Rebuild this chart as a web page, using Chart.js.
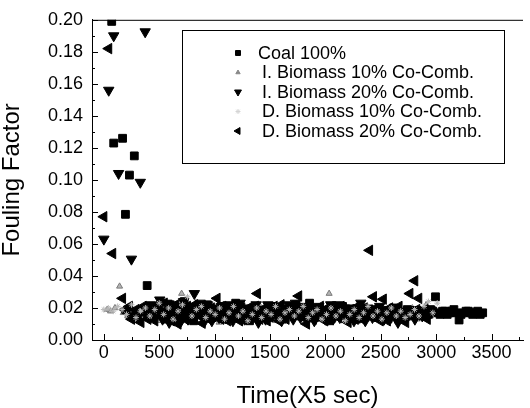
<!DOCTYPE html>
<html>
<head>
<meta charset="utf-8">
<script src="https://cdn.jsdelivr.net/npm/chart.js@4.4.1/dist/chart.umd.min.js"></script>
<style>
    body { margin: 0; background: #fff; }
    canvas { display: block; }
</style>
</head>
<body>
<canvas id="myChart" width="530" height="408"></canvas>
<script>
// Series as [time, fouling factor]
const coalPoints = [[71, 0.199], [89, 0.123], [169, 0.126], [195, 0.0785], [231, 0.103], [275, 0.115], [391, 0.034],
    [430, 0.018], [470, 0.021], [515, 0.016], [560, 0.013], [600, 0.022], [640, 0.019], [685, 0.015], [725, 0.024],
    [770, 0.017], [810, 0.012], [850, 0.020], [895, 0.016], [935, 0.022], [980, 0.014], [1020, 0.018], [1060, 0.021],
    [1105, 0.013], [1145, 0.017], [1190, 0.023], [1230, 0.015], [1270, 0.019], [1315, 0.012], [1355, 0.020], [1400, 0.016],
    [1440, 0.018], [1480, 0.014], [1525, 0.021], [1565, 0.017], [1610, 0.013], [1650, 0.019], [1690, 0.016], [1735, 0.022],
    [1775, 0.015], [1820, 0.018], [1857, 0.023], [1900, 0.014], [1945, 0.020], [1985, 0.017], [2030, 0.012], [2070, 0.019],
    [2110, 0.016], [2155, 0.021], [2195, 0.015], [2240, 0.018], [2280, 0.013], [2320, 0.020], [2365, 0.017], [2405, 0.015],
    [2450, 0.019], [2490, 0.014], [2530, 0.018], [2575, 0.016], [2615, 0.020], [2660, 0.013], [2700, 0.017], [2740, 0.019],
    [2785, 0.015], [2825, 0.018], [2850, 0.017], [2870, 0.016], [2890, 0.018], [2910, 0.017], [2930, 0.016], [2950, 0.019],
    [2970, 0.018], [2994, 0.027], [3015, 0.017], [3035, 0.016], [3058, 0.018], [3080, 0.018], [3100, 0.016], [3120, 0.017],
    [3140, 0.018], [3160, 0.019], [3180, 0.017], [3207, 0.0125], [3225, 0.016], [3250, 0.017], [3270, 0.018], [3290, 0.018],
    [3310, 0.017], [3330, 0.016], [3352, 0.017], [3375, 0.018], [3398, 0.016], [3420, 0.017]]

const iBio10Points = [[30, 0.019], [60, 0.018], [100, 0.020], [142, 0.0335], [175, 0.017], [215, 0.015], [255, 0.019],
    [300, 0.013], [340, 0.017], [380, 0.021], [425, 0.014], [465, 0.018], [510, 0.012], [550, 0.016], [590, 0.020],
    [635, 0.013], [675, 0.017], [702, 0.029], [745, 0.015], [785, 0.019], [830, 0.012], [870, 0.016], [915, 0.021],
    [955, 0.014], [1000, 0.018], [1040, 0.011], [1080, 0.016], [1125, 0.020], [1165, 0.013], [1210, 0.017], [1250, 0.015],
    [1290, 0.019], [1335, 0.012], [1375, 0.016], [1420, 0.020], [1460, 0.014], [1500, 0.018], [1545, 0.012], [1585, 0.016],
    [1630, 0.019], [1670, 0.013], [1710, 0.017], [1755, 0.015], [1795, 0.020], [1840, 0.012], [1880, 0.016], [1920, 0.019],
    [1965, 0.014], [2005, 0.017], [2034, 0.029], [2075, 0.013], [2115, 0.016], [2160, 0.020], [2200, 0.012], [2240, 0.017],
    [2285, 0.015], [2325, 0.019], [2370, 0.013], [2410, 0.016], [2450, 0.020], [2495, 0.014], [2535, 0.018], [2575, 0.012],
    [2620, 0.016], [2660, 0.019], [2700, 0.014], [2745, 0.017], [2785, 0.020], [2830, 0.013], [2870, 0.016], [2910, 0.022],
    [2950, 0.015], [2990, 0.019], [3030, 0.0155]]

const iBio20Points = [[0, 0.063], [44, 0.156], [89, 0.190], [133, 0.104], [249, 0.0505], [329, 0.0985], [373, 0.1925],
    [400, 0.017], [420, 0.022], [445, 0.019], [465, 0.014], [485, 0.020], [505, 0.025], [530, 0.013], [550, 0.018],
    [570, 0.023], [590, 0.011], [612, 0.016], [635, 0.021], [655, 0.019], [675, 0.016], [698, 0.012], [720, 0.024],
    [740, 0.018], [760, 0.013], [785, 0.021], [817, 0.029], [835, 0.015], [850, 0.019], [870, 0.023], [890, 0.015],
    [912, 0.012], [935, 0.022], [955, 0.017], [975, 0.012], [998, 0.020], [1020, 0.018], [1040, 0.014], [1060, 0.021],
    [1080, 0.017], [1100, 0.014], [1122, 0.022], [1145, 0.019], [1165, 0.012], [1185, 0.016], [1208, 0.020], [1230, 0.023],
    [1250, 0.017], [1270, 0.013], [1290, 0.018], [1310, 0.020], [1332, 0.015], [1355, 0.017], [1375, 0.022], [1395, 0.011],
    [1418, 0.016], [1440, 0.019], [1460, 0.013], [1480, 0.022], [1500, 0.018], [1520, 0.015], [1542, 0.020], [1565, 0.018],
    [1585, 0.014], [1605, 0.012], [1628, 0.017], [1650, 0.020], [1670, 0.022], [1690, 0.016], [1710, 0.013], [1730, 0.023],
    [1752, 0.018], [1775, 0.014], [1795, 0.021], [1815, 0.019], [1838, 0.015], [1860, 0.017], [1880, 0.020], [1900, 0.012],
    [1920, 0.016], [1940, 0.021], [1962, 0.018], [1985, 0.015], [2005, 0.013], [2025, 0.019], [2048, 0.022], [2070, 0.013],
    [2090, 0.017], [2110, 0.022], [2130, 0.014], [2150, 0.017], [2172, 0.020], [2195, 0.014], [2215, 0.018], [2235, 0.020],
    [2258, 0.012], [2280, 0.016], [2300, 0.019], [2320, 0.023], [2340, 0.015], [2360, 0.012], [2382, 0.020], [2405, 0.018],
    [2425, 0.014], [2445, 0.015], [2468, 0.019], [2490, 0.021], [2510, 0.016], [2530, 0.013], [2550, 0.018], [2570, 0.019],
    [2592, 0.014], [2615, 0.016], [2635, 0.020], [2655, 0.011], [2678, 0.015], [2700, 0.018], [2720, 0.016], [2740, 0.014],
    [2762, 0.019], [2785, 0.017], [2808, 0.013], [2830, 0.019], [2852, 0.016], [2875, 0.015], [2898, 0.018]]

const dBio10Points = [[0, 0.019], [40, 0.020], [85, 0.018], [125, 0.021], [165, 0.019], [205, 0.016], [250, 0.022],
    [290, 0.014], [330, 0.018], [375, 0.020], [415, 0.015], [460, 0.019], [500, 0.023], [540, 0.016], [585, 0.020],
    [625, 0.013], [670, 0.018], [710, 0.022], [755, 0.027], [795, 0.015], [835, 0.019], [880, 0.021], [920, 0.014],
    [960, 0.018], [1005, 0.016], [1045, 0.020], [1090, 0.013], [1130, 0.017], [1170, 0.021], [1215, 0.015], [1255, 0.018],
    [1300, 0.012], [1340, 0.016], [1380, 0.020], [1425, 0.014], [1465, 0.018], [1510, 0.016], [1550, 0.021], [1590, 0.013],
    [1635, 0.017], [1675, 0.019], [1720, 0.015], [1760, 0.018], [1800, 0.021], [1845, 0.014], [1885, 0.017], [1925, 0.019],
    [1970, 0.013], [2010, 0.016], [2050, 0.020], [2095, 0.015], [2135, 0.018], [2180, 0.012], [2220, 0.016], [2260, 0.019],
    [2305, 0.014], [2345, 0.017], [2385, 0.021], [2430, 0.015], [2470, 0.018], [2510, 0.013], [2555, 0.017], [2595, 0.020],
    [2640, 0.015], [2680, 0.018], [2720, 0.014], [2765, 0.016], [2805, 0.019], [2845, 0.015], [2890, 0.021], [2930, 0.024],
    [2970, 0.017], [3010, 0.023]]

const dBio20Points = [[0, 0.077], [44, 0.182], [80, 0.054], [169, 0.026], [190, 0.019], [210, 0.017], [230, 0.021],
    [250, 0.013], [270, 0.016], [290, 0.019], [312, 0.014], [335, 0.011], [355, 0.021], [375, 0.016], [398, 0.013],
    [420, 0.020], [440, 0.017], [460, 0.012], [482, 0.022], [505, 0.018], [525, 0.014], [545, 0.023], [568, 0.019],
    [590, 0.015], [610, 0.012], [630, 0.019], [650, 0.022], [670, 0.010], [692, 0.014], [715, 0.017], [735, 0.013],
    [755, 0.021], [778, 0.018], [800, 0.014], [820, 0.022], [840, 0.018], [865, 0.015], [888, 0.0105], [905, 0.019],
    [925, 0.016], [948, 0.013], [970, 0.020], [995, 0.017], [1022, 0.026], [1038, 0.015], [1055, 0.013], [1075, 0.021],
    [1095, 0.018], [1118, 0.012], [1140, 0.015], [1160, 0.019], [1180, 0.021], [1202, 0.016], [1225, 0.012], [1245, 0.020],
    [1265, 0.017], [1285, 0.014], [1305, 0.020], [1328, 0.018], [1350, 0.014], [1368, 0.021], [1386, 0.029], [1408, 0.013],
    [1430, 0.016], [1452, 0.020], [1475, 0.012], [1495, 0.017], [1515, 0.019], [1538, 0.021], [1560, 0.015], [1580, 0.012],
    [1600, 0.022], [1622, 0.018], [1645, 0.013], [1665, 0.016], [1685, 0.018], [1708, 0.021], [1730, 0.016], [1759, 0.0275],
    [1780, 0.019], [1800, 0.014], [1815, 0.017], [1830, 0.010], [1850, 0.021], [1870, 0.019], [1890, 0.013], [1910, 0.015],
    [1932, 0.018], [1955, 0.021], [1975, 0.016], [1995, 0.012], [2018, 0.020], [2040, 0.017], [2060, 0.014], [2080, 0.020],
    [2100, 0.018], [2120, 0.014], [2142, 0.021], [2165, 0.018], [2185, 0.015], [2205, 0.011], [2228, 0.019], [2250, 0.016],
    [2270, 0.013], [2290, 0.021], [2310, 0.017], [2330, 0.013], [2352, 0.020], [2375, 0.018], [2399, 0.056], [2415, 0.016],
    [2434, 0.027], [2452, 0.019], [2470, 0.015], [2495, 0.012], [2523, 0.0255], [2540, 0.017], [2560, 0.012], [2580, 0.020],
    [2600, 0.019], [2622, 0.015], [2645, 0.014], [2665, 0.021], [2685, 0.017], [2705, 0.013], [2725, 0.011], [2745, 0.018],
    [2763, 0.029], [2785, 0.016], [2807, 0.037], [2825, 0.019], [2843, 0.026], [2862, 0.017], [2880, 0.015], [2900, 0.019],
    [2920, 0.013]]

const seriesLabels = ['Coal 100%', 'I. Biomass 10% Co-Comb.', 'I. Biomass 20% Co-Comb.', 'D. Biomass 10% Co-Comb.', 'D. Biomass 20% Co-Comb.']

// Tick values
const xMajorTicks = [0, 500, 1000, 1500, 2000, 2500, 3000, 3500]
const xMinorTicks = [250, 750, 1250, 1750, 2250, 2750, 3250, 3750]
const yMajorTicks = [0, 0.02, 0.04, 0.06, 0.08, 0.10, 0.12, 0.14, 0.16, 0.18, 0.20]
const yMinorTicks = [0.01, 0.03, 0.05, 0.07, 0.09, 0.11, 0.13, 0.15, 0.17, 0.19]

Chart.defaults.font.family = '"Liberation Sans", Arial, sans-serif'

function toXY(points) {
    return points.map(function (p) { return { x: p[0], y: p[1] } })
}

function toTicks(values) {
    return values.map(function (v) { return { value: v } })
}

// Inward ticks, top frame line and the boxed legend
const frameAndLegend = {
    id: 'frameAndLegend',
    afterDatasetsDraw(chart) {
        const ctx = chart.ctx
        const area = chart.chartArea
        const xs = chart.scales.x
        const ys = chart.scales.y
        ctx.save()
        ctx.strokeStyle = '#000'
        ctx.lineWidth = 1
        ctx.beginPath()
        ctx.moveTo(area.left, area.top + 0.5)
        ctx.lineTo(area.right, area.top + 0.5)
        xMajorTicks.concat(xMinorTicks).forEach(function (v) {
            const px = Math.round(xs.getPixelForValue(v)) + 0.5
            if (px > area.right) return
            const len = xMajorTicks.includes(v) ? 6 : 3
            ctx.moveTo(px, area.bottom)
            ctx.lineTo(px, area.bottom - len)
        })
        yMajorTicks.concat(yMinorTicks).forEach(function (v) {
            const py = Math.round(ys.getPixelForValue(v)) + 0.5
            const len = yMajorTicks.includes(v) ? 6 : 3
            ctx.moveTo(area.left, py)
            ctx.lineTo(area.left + len, py)
        })
        ctx.stroke()

        // legend
        ctx.fillStyle = '#fff'
        ctx.fillRect(182, 30, 323, 133)
        ctx.strokeRect(182.5, 30.5, 322, 133)
        ctx.font = '18px "Liberation Sans", Arial, sans-serif'
        ctx.textBaseline = 'middle'
        chart.data.datasets.forEach(function (ds, i) {
            const rowY = 53 + i * 19.5
            ctx.fillStyle = ds.legendColor
            ctx.strokeStyle = ds.legendColor
            ctx.lineWidth = 1
            Chart.helpers.drawPoint(ctx, {
                pointStyle: ds.pointStyle,
                rotation: ds.rotation || 0,
                radius: ds.legendRadius,
                borderWidth: 1
            }, 238, rowY)
            ctx.fillStyle = '#000'
            ctx.fillText(ds.label, i === 0 ? 258 : 262, rowY + 1)
        })
        ctx.restore()
    }
}

const myChart = document.getElementById('myChart')

const chart = new Chart(myChart, {
    type: 'scatter',
    data: {
        datasets: [
            {
                label: seriesLabels[0],
                data: toXY(coalPoints),
                pointStyle: 'rect',
                pointRadius: 5.5,
                backgroundColor: '#000',
                borderColor: '#000',
                borderWidth: 1,
                legendColor: '#000',
                legendRadius: 3.5,
                order: 1
            },
            {
                label: seriesLabels[1],
                data: toXY(iBio10Points),
                pointStyle: 'triangle',
                pointRadius: 3.5,
                backgroundColor: '#b4b4b4',
                borderColor: '#7a7a7a',
                borderWidth: 1,
                legendColor: '#888',
                legendRadius: 2.5,
                order: 2
            },
            {
                label: seriesLabels[2],
                data: toXY(iBio20Points),
                pointStyle: 'triangle',
                rotation: 180,
                pointRadius: 6,
                backgroundColor: '#000',
                borderColor: '#000',
                borderWidth: 1,
                legendColor: '#000',
                legendRadius: 4,
                order: 1
            },
            {
                label: seriesLabels[3],
                data: toXY(dBio10Points),
                pointStyle: 'star',
                pointRadius: 3,
                backgroundColor: '#bdbdbd',
                borderColor: '#b8b8b8',
                borderWidth: 1,
                legendColor: '#d4d4d4',
                legendRadius: 2.5,
                order: 0
            },
            {
                label: seriesLabels[4],
                data: toXY(dBio20Points),
                pointStyle: 'triangle',
                rotation: 270,
                pointRadius: 6,
                backgroundColor: '#000',
                borderColor: '#000',
                borderWidth: 1,
                legendColor: '#000',
                legendRadius: 4,
                order: 1
            }
        ]
    },
    options: {
        responsive: false,
        animation: false,
        layout: { padding: { top: 19, right: 0, left: 0, bottom: 0 } },
        plugins: {
            legend: { display: false },
            tooltip: { enabled: false }
        },
        scales: {
            x: {
                type: 'linear',
                min: -107,
                max: 3784,
                afterFit: function (scale) { scale.height = 68 },
                afterBuildTicks: function (scale) { scale.ticks = toTicks(xMajorTicks) },
                grid: { display: false, drawTicks: false },
                border: { color: '#000', width: 1 },
                ticks: {
                    autoSkip: false,
                    maxRotation: 0,
                    padding: 2,
                    color: '#000',
                    font: { size: 18 },
                    callback: function (v) { return String(v) }
                },
                title: {
                    display: true,
                    text: 'Time(X5 sec)',
                    color: '#000',
                    font: { size: 24, lineHeight: 1 },
                    padding: { top: 0, bottom: 0 }
                }
            },
            y: {
                min: 0,
                max: 0.2,
                afterFit: function (scale) { scale.width = 92 },
                afterBuildTicks: function (scale) { scale.ticks = toTicks(yMajorTicks) },
                grid: { display: false, drawTicks: false },
                border: { color: '#000', width: 1 },
                ticks: {
                    padding: 9,
                    color: '#000',
                    font: { size: 18 },
                    callback: function (v) { return v.toFixed(2) }
                },
                title: {
                    display: true,
                    text: 'Fouling Factor',
                    color: '#000',
                    font: { size: 24, lineHeight: 1 },
                    padding: { top: 0, bottom: 0 }
                }
            }
        }
    },
    plugins: [frameAndLegend]
})
</script>
</body>
</html>
